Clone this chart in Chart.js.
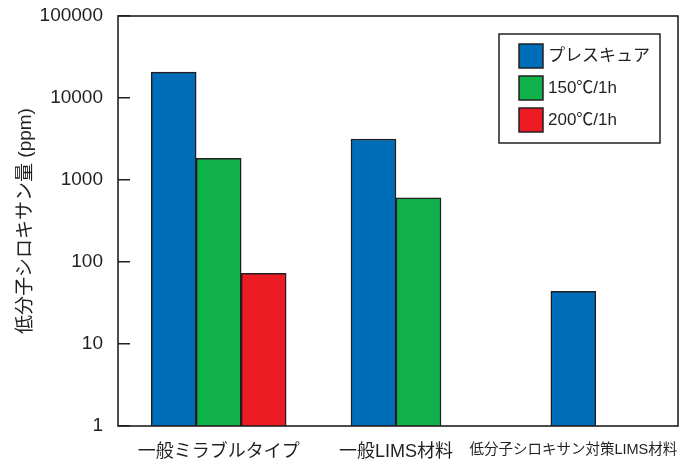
<!DOCTYPE html>
<html lang="ja">
<head>
<meta charset="utf-8">
<title>低分子シロキサン量</title>
<script src="https://cdn.jsdelivr.net/npm/chart.js@4.4.1/dist/chart.umd.min.js"></script>
<style>
  html, body { margin: 0; padding: 0; background: #fff; }
  #wrap { width: 680px; height: 463px; position: relative; }
</style>
</head>
<body>
<div id="wrap"><canvas id="chart"></canvas></div>
<script>
// x categories
const categories = ["一般ミラブルタイプ", "一般LIMS材料", "低分子シロキサン対策LIMS材料"];

// series (ppm), null = no bar for that category
const seriesNames = ["プレスキュア", "150℃/1h", "200℃/1h"];
const pressCure = [20700, 3160, 44];
const cure150 = [1840, 608, null];
const cure200 = [73, null, null];

// log axis ticks
const yTicks = [1, 10, 100, 1000, 10000, 100000];
const yTickLabels = ["1", "10", "100", "1000", "10000", "100000"];

const seriesColors = ["#006db8", "#10b04a", "#ed1c24"];
const INK = "#231f20";
const FONT = '"Liberation Sans", "Noto Sans CJK JP", sans-serif';

Chart.defaults.font.family = FONT;
Chart.defaults.color = INK;

// plot frame, a bit wider than the category area
const framePlugin = {
  id: "frame",
  afterDatasetsDraw(chart) {
    const { ctx, chartArea: a } = chart;
    ctx.save();
    ctx.strokeStyle = INK;
    ctx.lineWidth = 1.6;
    ctx.strokeRect(a.left - 12, a.top, a.right - a.left + 28, a.bottom - a.top);
    ctx.restore();
  }
};

// boxed legend inside the plot, top right
const boxLegend = {
  id: "boxLegend",
  afterDraw(chart) {
    const { ctx, chartArea: a } = chart;
    const x0 = a.right - 163, y0 = a.top + 18, w = 161, h = 109;
    ctx.save();
    ctx.fillStyle = "#fff";
    ctx.fillRect(x0, y0, w, h);
    ctx.strokeStyle = INK;
    ctx.lineWidth = 1.5;
    ctx.strokeRect(x0, y0, w, h);
    ctx.font = "17px " + FONT;
    ctx.textBaseline = "middle";
    chart.data.datasets.forEach((ds, i) => {
      const sy = y0 + 10 + i * 32;
      ctx.fillStyle = ds.backgroundColor;
      ctx.fillRect(x0 + 20, sy, 24, 24);
      ctx.strokeRect(x0 + 20, sy, 24, 24);
      ctx.fillStyle = INK;
      ctx.fillText(ds.label, x0 + 49, sy + 12);
    });
    ctx.restore();
  }
};

new Chart(document.getElementById("chart"), {
  type: "bar",
  data: {
    labels: categories,
    datasets: [
      { label: seriesNames[0], data: pressCure, backgroundColor: seriesColors[0] },
      { label: seriesNames[1], data: cure150, backgroundColor: seriesColors[1] },
      { label: seriesNames[2], data: cure200, backgroundColor: seriesColors[2] }
    ]
  },
  options: {
    responsive: true,
    maintainAspectRatio: false,
    animation: false,
    layout: { padding: { top: 16, right: 18, bottom: 0, left: 5 } },
    datasets: {
      bar: { barThickness: 45, skipNull: true, borderColor: INK, borderWidth: 1.5 }
    },
    plugins: {
      legend: { display: false },
      tooltip: { enabled: false }
    },
    scales: {
      x: {
        grid: { display: false, drawTicks: false },
        border: { display: false },
        ticks: {
          color: INK,
          padding: 15,
          maxRotation: 0,
          autoSkip: false,
          font: (c) => ({ family: FONT, size: c.index === 2 ? 14.5 : 18 })
        },
        afterFit(s) { s.height = 37; s.paddingLeft = 0; s.paddingRight = 0; }
      },
      y: {
        type: "logarithmic",
        min: 1,
        max: 100000,
        grid: { drawOnChartArea: false, tickLength: 12, color: INK, lineWidth: 1.5 },
        border: { display: false },
        ticks: {
          color: INK,
          padding: 15,
          font: { size: 19 },
          callback: (v, i) => yTickLabels[i]
        },
        afterBuildTicks(s) { s.ticks = yTicks.map(v => ({ value: v })); },
        afterFit(s) { s.width = 125; s.paddingTop = 0; s.paddingBottom = 0; },
        title: {
          display: true,
          text: "低分子シロキサン量 (ppm)",
          color: INK,
          font: { size: 19 },
          padding: { top: 9, bottom: 0 }
        }
      }
    }
  },
  plugins: [framePlugin, boxLegend]
});
</script>
</body>
</html>
